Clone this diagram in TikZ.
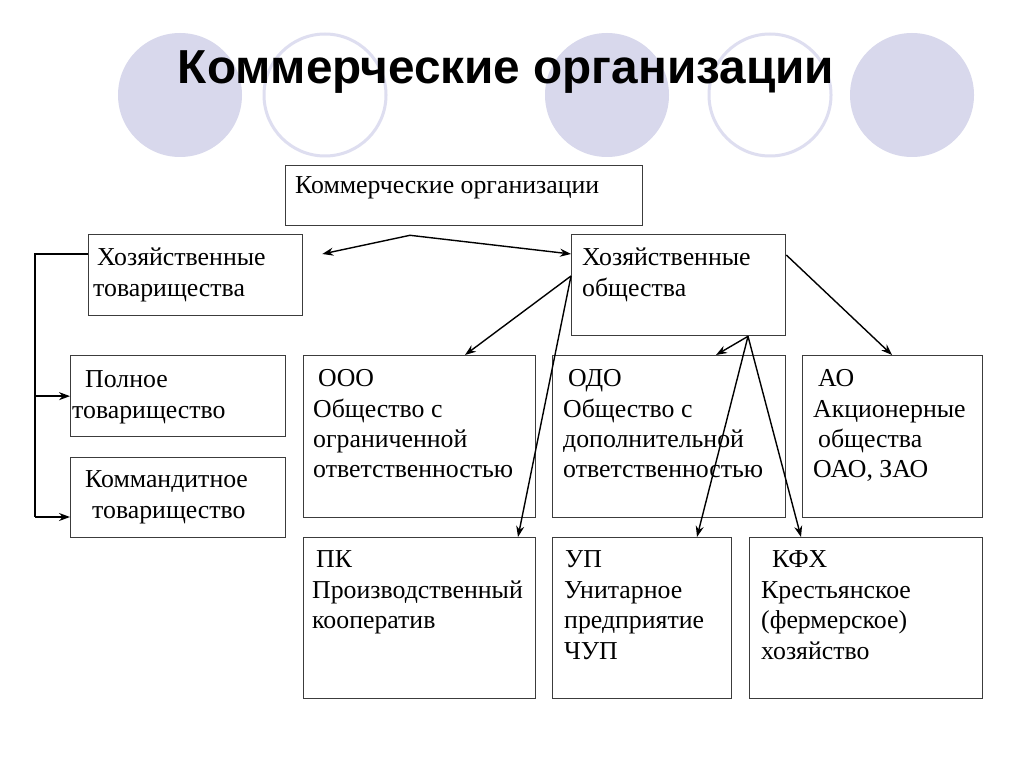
\documentclass[tikz,border=0pt]{standalone}
\usepackage{fontspec}
\setmainfont{Liberation Serif}
\newfontfamily\titlefont{Liberation Sans}
\usetikzlibrary{arrows.meta,calc}
\definecolor{lav}{RGB}{216,216,236}
\definecolor{lavline}{RGB}{222,222,240}
\definecolor{boxline}{RGB}{60,60,60}
\begin{document}
\begin{tikzpicture}[x=1pt,y=-1pt,
  box/.style={draw=boxline, line width=1.3pt, inner sep=0pt, anchor=north west},
  ln/.style={anchor=base west, inner sep=0pt, font=\fontsize{25.8}{30}\selectfont},
  arr/.style={line width=1.4pt, -{Stealth[length=11pt,width=8pt]}},
  link/.style={line width=1.4pt},
  disc/.style={fill=lav},
  ring/.style={draw=lavline, line width=3pt, fill=white}]
\useasboundingbox (0,0) rectangle (1024,767);
\fill[white] (0,0) rectangle (1024,767);
% decorative circles
\fill[disc] (180,95) circle[radius=62pt];
\filldraw[ring] (325,95) circle[radius=61pt];
\fill[disc] (607,95) circle[radius=62pt];
\filldraw[ring] (770,95) circle[radius=61pt];
\fill[disc] (912,95) circle[radius=62pt];
% title
\node[inner sep=0pt, anchor=base, font=\titlefont\bfseries\fontsize{47.7}{50}\selectfont] (title) at (506,84) {Коммерческие организации};
% boxes
\node[box, minimum width=357pt, minimum height=60pt] (ko) at (285,165) {};
\node[box, minimum width=214pt, minimum height=81pt] (ht) at (88,234) {};
\node[box, minimum width=214pt, minimum height=101pt] (ho) at (571,234) {};
\node[box, minimum width=215pt, minimum height=81pt] (pt) at (70,355) {};
\node[box, minimum width=215pt, minimum height=80pt] (kt) at (70,457) {};
\node[box, minimum width=232pt, minimum height=162pt] (ooo) at (303,355) {};
\node[box, minimum width=233pt, minimum height=162pt] (odo) at (552,355) {};
\node[box, minimum width=180pt, minimum height=162pt] (ao) at (802,355) {};
\node[box, minimum width=232pt, minimum height=161pt] (pk) at (303,537) {};
\node[box, minimum width=179pt, minimum height=161pt] (up) at (552,537) {};
\node[box, minimum width=233pt, minimum height=161pt] (kfh) at (749,537) {};
% texts
\node[ln] (ko1) at (295,194) {Коммерческие организации};
\node[ln] (ht1) at (97,265) {Хозяйственные};
\node[ln] (ht2) at (93,296) {товарищества};
\node[ln] (ho1) at (582,265) {Хозяйственные};
\node[ln] (ho2) at (582,296) {общества};
\node[ln] (pt1) at (85,387) {Полное};
\node[ln] (pt2) at (72,418) {товарищество};
\node[ln] (kt1) at (85,487) {Коммандитное};
\node[ln] (kt2) at (92,518) {товарищество};
\node[ln] (ooo1) at (318,386) {ООО};
\node[ln] (ooo2) at (313,417) {Общество с};
\node[ln] (ooo3) at (313,447) {ограниченной};
\node[ln] (ooo4) at (313,477) {ответственностью};
\node[ln] (odo1) at (568,386) {ОДО};
\node[ln] (odo2) at (563,417) {Общество с};
\node[ln] (odo3) at (563,447) {дополнительной};
\node[ln] (odo4) at (563,477) {ответственностью};
\node[ln] (ao1) at (818,386) {АО};
\node[ln] (ao2) at (813,417) {Акционерные};
\node[ln] (ao3) at (818,447) {общества};
\node[ln] (ao4) at (813,477) {ОАО, ЗАО};
\node[ln] (pk1) at (316,567) {ПК};
\node[ln] (pk2) at (312,598) {Производственный};
\node[ln] (pk3) at (312,628) {кооператив};
\node[ln] (up1) at (565,567) {УП};
\node[ln] (up2) at (564,598) {Унитарное};
\node[ln] (up3) at (564,628) {предприятие};
\node[ln] (up4) at (564,659) {ЧУП};
\node[ln] (kfh1) at (772,567) {КФХ};
\node[ln] (kfh2) at (761,598) {Крестьянское};
\node[ln] (kfh3) at (761,628) {(фермерское)};
\node[ln] (kfh4) at (761,659) {хозяйство};
% connectors
\coordinate (apex) at ($(ko.south west)+(125,9)$);
\coordinate (htin) at ($(ht.north east)+(19,20)$);
\draw[arr] (apex) -- (htin);
\draw[arr] (apex) -- ($(ho.north west)+(0,20)$);
\coordinate (b1) at (35,254);
\coordinate (b3) at (35,517);
\draw[link] (ht.west |- b1) -- (b1) -- (b3);
\draw[arr] (b1 |- pt.west) -- (pt.west);
\draw[arr] (b3) -- (kt.west |- b3);
\coordinate (hoL) at ($(ho.north west)+(0,42)$);
\draw[arr] (hoL) -- ($(ooo.north west)+(162,0)$);
\draw[arr] (hoL) -- ($(pk.north west)+(215,0)$);
\coordinate (hoB) at ($(ho.south west)+(177,0)$);
\draw[arr] (hoB) -- ($(odo.north west)+(164,0)$);
\draw[arr] (hoB) -- ($(up.north west)+(145,0)$);
\draw[arr] (hoB) -- ($(kfh.north west)+(52,0)$);
\coordinate (hoR) at ($(ho.north east)+(0,21)$);
\draw[arr] (hoR) -- ($(ao.north west)+(90,0)$);
\end{tikzpicture}
\end{document}
